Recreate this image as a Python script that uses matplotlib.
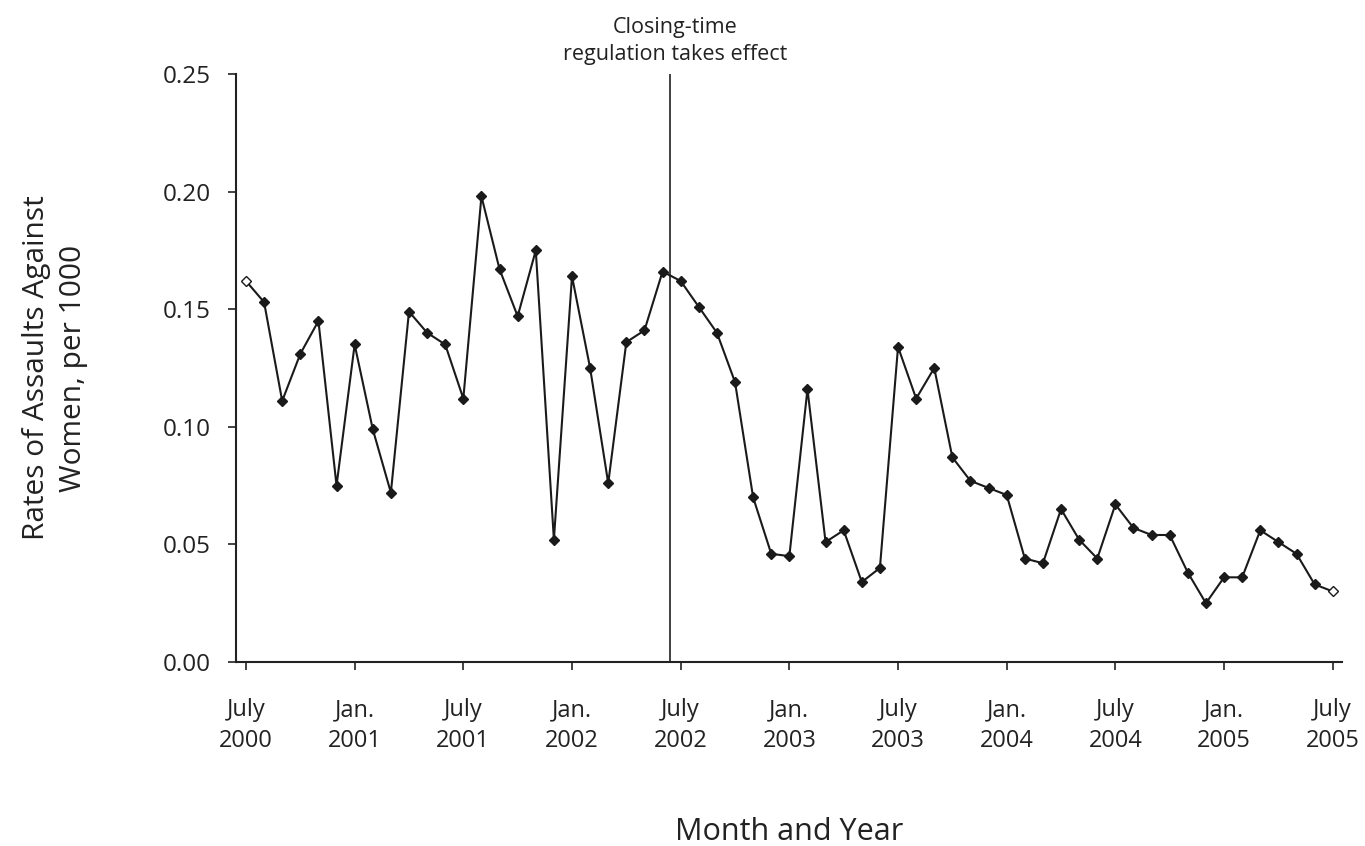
import matplotlib
matplotlib.use("Agg")
import matplotlib.pyplot as plt
from matplotlib.ticker import FixedLocator, FormatStrFormatter

plt.rcParams['font.family'] = ['Open Sans', 'DejaVu Sans']

# Monthly rates, July 2000 .. July 2005 (61 months)
rates = [0.162, 0.153, 0.111, 0.131, 0.145, 0.075, 0.135, 0.099, 0.072, 0.149,
         0.140, 0.135, 0.112, 0.198, 0.167, 0.147, 0.175, 0.052, 0.164, 0.125,
         0.076, 0.136, 0.141, 0.166, 0.162, 0.151, 0.140, 0.119, 0.070, 0.046,
         0.045, 0.116, 0.051, 0.056, 0.034, 0.040, 0.134, 0.112, 0.125, 0.087,
         0.077, 0.074, 0.071, 0.044, 0.042, 0.065, 0.052, 0.044, 0.067, 0.057,
         0.054, 0.054, 0.038, 0.025, 0.036, 0.036, 0.056, 0.051, 0.046, 0.033,
         0.030]
months = list(range(len(rates)))
tick_months = [0, 6, 12, 18, 24, 30, 36, 42, 48, 54, 60]
tick_labels = ["July\n2000", "Jan.\n2001", "July\n2001", "Jan.\n2002", "July\n2002",
               "Jan.\n2003", "July\n2003", "Jan.\n2004", "July\n2004", "Jan.\n2005",
               "July\n2005"]
regulation_month = 23.4
annotation = "Closing-time\nregulation takes effect"

fig = plt.figure(figsize=(13.65, 8.46), dpi=100)
ax = fig.add_axes([0.1729, 0.2175, 0.8101, 0.695])

ax.plot(months, rates, color='#1a1a1a', lw=1.5, zorder=2)
ax.plot(months[1:-1], rates[1:-1], linestyle='none', marker='D', ms=5.5,
        mfc='#1a1a1a', mec='#1a1a1a', zorder=3)
ax.plot([months[0], months[-1]], [rates[0], rates[-1]], linestyle='none', marker='D',
        ms=5.5, mfc='white', mec='#1a1a1a', mew=1.0, zorder=3)

ax.axvline(regulation_month, color='#333333', lw=1.3, zorder=1)
ax.text(regulation_month + 0.3, 0.256, annotation, ha='center', va='baseline',
        fontsize=15.5, color='#222222', linespacing=1.4)

ax.set_xlim(-0.55, 60.5)
ax.set_ylim(0, 0.25)
ax.yaxis.set_major_locator(FixedLocator([0, 0.05, 0.10, 0.15, 0.20, 0.25]))
ax.yaxis.set_major_formatter(FormatStrFormatter('%.2f'))
ax.set_xticks(tick_months)
ax.set_xticklabels(tick_labels, linespacing=1.4)

for s in ['top', 'right']:
    ax.spines[s].set_visible(False)
for s in ['left', 'bottom']:
    ax.spines[s].set_linewidth(1.5)
    ax.spines[s].set_color('#222222')

ax.tick_params(axis='y', direction='out', length=6, width=1.2, labelsize=17.5, pad=12,
               colors='#222222')
ax.tick_params(axis='x', direction='out', length=6, width=1.2, labelsize=17, pad=20,
               colors='#222222')

ax.set_ylabel("Rates of Assaults Against\nWomen, per 1000", fontsize=21.5,
              color='#222222', labelpad=54, linespacing=1.35)
ax.set_xlabel("Month and Year", fontsize=22, color='#222222', labelpad=46)

fig.savefig("out.png", dpi=100)
